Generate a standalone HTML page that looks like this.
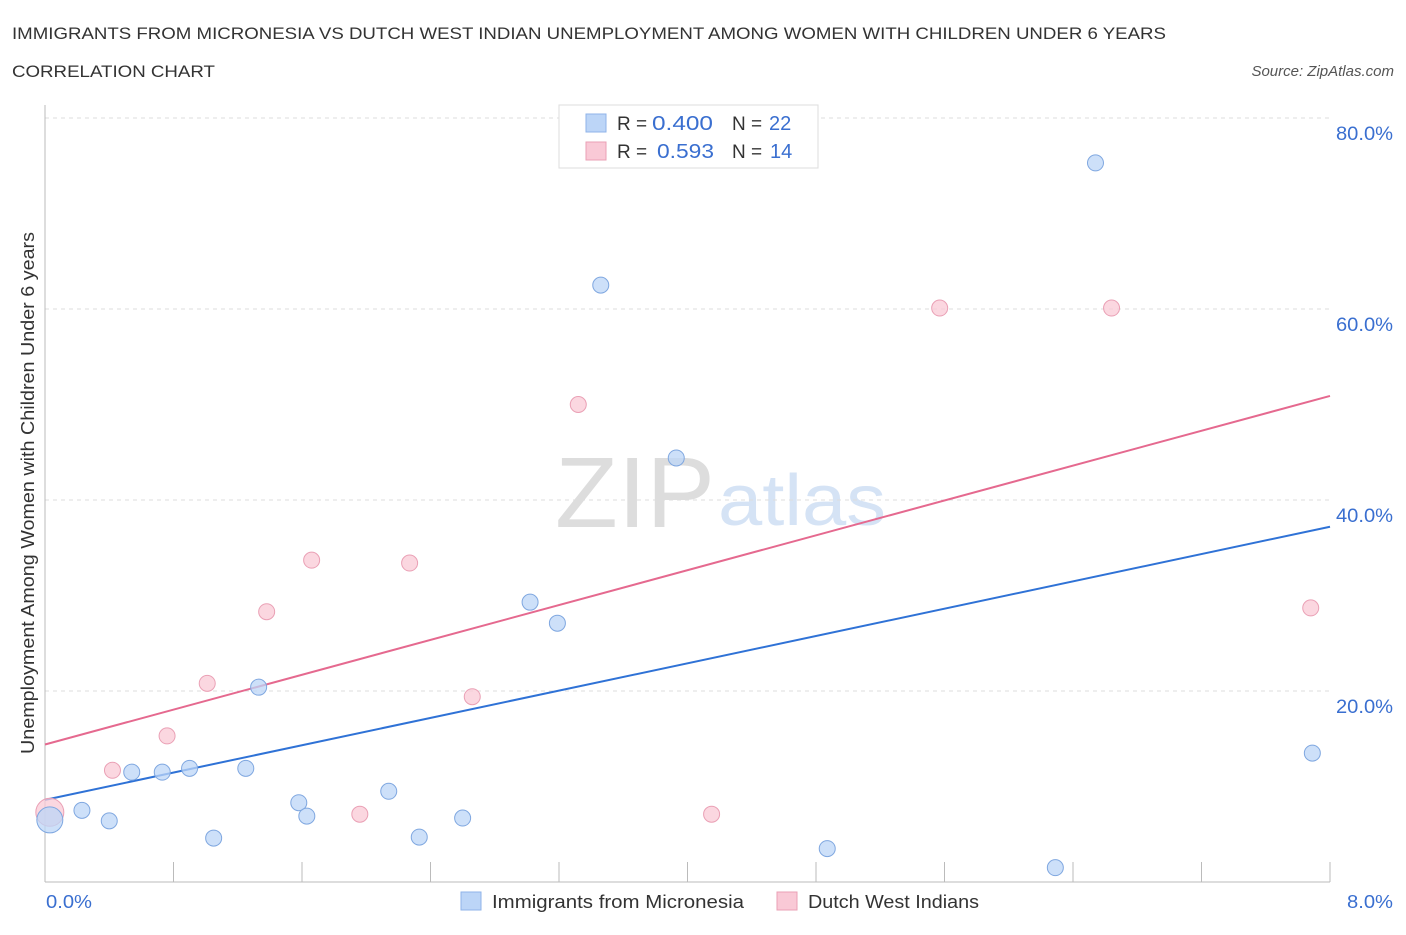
<!DOCTYPE html>
<html><head><meta charset="utf-8"><style>
body{margin:0;background:#fff;font-family:"Liberation Sans",sans-serif;}
svg text{font-family:"Liberation Sans",sans-serif;}
</style></head><body>
<svg width="1406" height="930" xmlns="http://www.w3.org/2000/svg">
<text x="12" y="39" font-size="17" fill="#333" textLength="1154" lengthAdjust="spacingAndGlyphs">IMMIGRANTS FROM MICRONESIA VS DUTCH WEST INDIAN UNEMPLOYMENT AMONG WOMEN WITH CHILDREN UNDER 6 YEARS</text>
<text x="12" y="77" font-size="17" fill="#333" textLength="203" lengthAdjust="spacingAndGlyphs">CORRELATION CHART</text>
<text x="1394" y="76" font-size="15" fill="#555" font-style="italic" text-anchor="end">Source: ZipAtlas.com</text>
<text x="555" y="527" font-size="100" fill="#ddd" font-family="Liberation Serif" textLength="160" lengthAdjust="spacingAndGlyphs">ZIP</text>
<text x="718" y="525" font-size="72" fill="#d5e3f5" textLength="168" lengthAdjust="spacingAndGlyphs">atlas</text>
<g id="grid"></g>
<line x1="45" y1="105" x2="45" y2="882" stroke="#bbb"/>
<line x1="45" y1="882" x2="1330" y2="882" stroke="#bbb"/>
<text x="34" y="493" font-size="18" fill="#333" text-anchor="middle" textLength="522" lengthAdjust="spacingAndGlyphs" transform="rotate(-90 34 493)">Unemployment Among Women with Children Under 6 years</text>
<text x="46" y="908" font-size="18" fill="#3a6fd0" textLength="46" lengthAdjust="spacingAndGlyphs">0.0%</text>
<text x="1393" y="908" font-size="18" fill="#3a6fd0" text-anchor="end" textLength="46" lengthAdjust="spacingAndGlyphs">8.0%</text>
<g id="lines"></g>
<g id="pts"></g>
<g>
<rect x="559" y="105" width="259" height="63" fill="#fff" stroke="#ddd"/>
<rect x="586" y="114" width="20" height="18" fill="#bcd5f7" stroke="#8fb3e8"/>
<text x="617" y="130" font-size="19" fill="#333">R =</text>
<text x="652" y="130" font-size="20" fill="#3a6fd0" textLength="61" lengthAdjust="spacingAndGlyphs">0.400</text>
<text x="732" y="130" font-size="19" fill="#333">N =</text>
<text x="769" y="130" font-size="20" fill="#3a6fd0">22</text>
<rect x="586" y="142" width="20" height="18" fill="#f9c9d6" stroke="#eaa0b5"/>
<text x="617" y="158" font-size="19" fill="#333">R =</text>
<text x="657" y="158" font-size="20" fill="#3a6fd0" textLength="57" lengthAdjust="spacingAndGlyphs">0.593</text>
<text x="732" y="158" font-size="19" fill="#333">N =</text>
<text x="770" y="158" font-size="20" fill="#3a6fd0">14</text>
</g>
<g>
<rect x="461" y="892" width="20" height="18" fill="#bcd5f7" stroke="#8fb3e8"/>
<text x="492" y="908" font-size="18" fill="#333" textLength="252" lengthAdjust="spacingAndGlyphs">Immigrants from Micronesia</text>
<rect x="777" y="892" width="20" height="18" fill="#f9c9d6" stroke="#eaa0b5"/>
<text x="808" y="908" font-size="18" fill="#333" textLength="171" lengthAdjust="spacingAndGlyphs">Dutch West Indians</text>
</g>
</svg>
<script>
const yTicks=[20,40,60,80];
const xTicks=[0,0.8,1.6,2.4,3.2,4,4.8,5.6,6.4,7.2,8];
const blueX=[0.03,0.23,0.40,0.54,0.73,0.90,1.05,1.25,1.33,1.58,1.63,2.14,2.33,2.60,3.02,3.19,3.46,3.93,4.87,6.29,6.54,7.89];
const blueY=[6.5,7.5,6.4,11.5,11.5,11.9,4.6,11.9,20.4,8.3,6.9,9.5,4.7,6.7,29.3,27.1,62.5,44.4,3.5,1.5,75.3,13.5];
const pinkX=[0.03,0.42,0.76,1.01,1.38,1.66,1.96,2.27,2.66,3.32,4.15,5.57,6.64,7.88];
const pinkY=[7.3,11.7,15.3,20.8,28.3,33.7,7.1,33.4,19.4,50.0,7.1,60.1,60.1,28.7];
const blueTrend=[8.6,37.2];
const pinkTrend=[14.4,50.9];
const NS="http://www.w3.org/2000/svg";
function sx(v){return 45+v/8*1285;}
function sy(v){return 882-v*9.55;}
function mk(t,a,p){const e=document.createElementNS(NS,t);for(const k in a)e.setAttribute(k,a[k]);p.appendChild(e);return e;}
const grid=document.getElementById('grid');
yTicks.forEach(v=>{
const l=mk('line',{x1:45,x2:1330,y1:sy(v),y2:sy(v),stroke:'#ddd','stroke-dasharray':'4 4'},grid);


const t=mk('text',{x:1393,y:sy(v)+22,'font-size':19,fill:'#3a6fd0','text-anchor':'end',textLength:57,lengthAdjust:'spacingAndGlyphs'},grid);
t.textContent=v.toFixed(1)+'%';


});
xTicks.forEach(v=>{
const l=mk('line',{x1:sx(v),x2:sx(v),y1:862,y2:882,stroke:'#bbb'},grid);


});
const lines=document.getElementById('lines');
const bl=mk('line',{x1:sx(0),y1:sy(blueTrend[0]),x2:sx(8),y2:sy(blueTrend[1]),stroke:'#2f72d6','stroke-width':2},lines);


const pl=mk('line',{x1:sx(0),y1:sy(pinkTrend[0]),x2:sx(8),y2:sy(pinkTrend[1]),stroke:'#e5698f','stroke-width':2},lines);


const pts=document.getElementById('pts');
pinkX.forEach((x,i)=>{
const c=mk('circle',{cx:sx(x),cy:sy(pinkY[i]),r:i==0?14:8,fill:'#f9c9d6','fill-opacity':0.75,stroke:'#eaa0b5'},pts);


});
blueX.forEach((x,i)=>{
const c=mk('circle',{cx:sx(x),cy:sy(blueY[i]),r:i==0?13:8,fill:'#bcd5f7','fill-opacity':0.75,stroke:'#7fa7e0'},pts);


});
</script>
</body></html>
